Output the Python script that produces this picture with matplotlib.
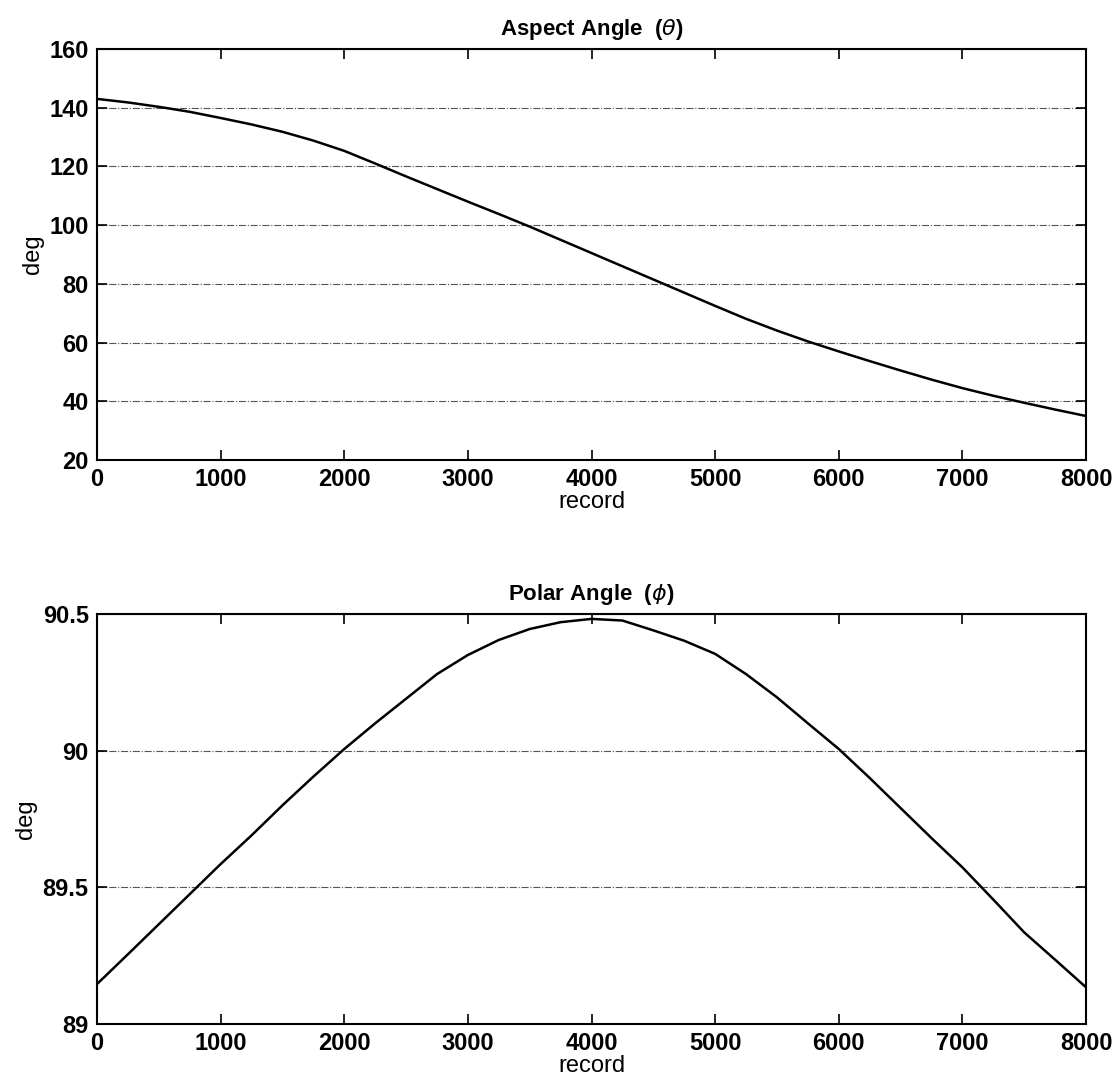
import numpy as np
import matplotlib.pyplot as plt

# record index and angles
record = [0, 250, 500, 750, 1000, 1250, 1500, 1750, 2000, 2250, 2500,
          2750, 3000, 3250, 3500, 3750, 4000, 4250, 4500, 4750, 5000,
          5250, 5500, 5750, 6000, 6250, 6500, 6750, 7000, 7250, 7500,
          7750, 8000]
aspect = [143.0, 141.8, 140.3, 138.6, 136.5, 134.3, 131.8, 128.8, 125.3,
          121.0, 116.6, 112.3, 108.0, 103.8, 99.5, 95.0, 90.5, 86.0, 81.5,
          77.0, 72.5, 68.1, 64.1, 60.4, 57.0, 53.7, 50.5, 47.4, 44.5, 41.9,
          39.5, 37.2, 35.0]
polar = [89.146, 89.255, 89.365, 89.475, 89.585, 89.69, 89.80, 89.905,
         90.006, 90.10, 90.19, 90.28, 90.35, 90.405, 90.445, 90.47, 90.482,
         90.476, 90.44, 90.402, 90.354, 90.28, 90.195, 90.10, 90.006, 89.90,
         89.79, 89.68, 89.573, 89.455, 89.335, 89.235, 89.134]

plt.rcParams['font.family'] = ['Liberation Sans', 'DejaVu Sans']
plt.rcParams['mathtext.fontset'] = 'dejavusans'

fig = plt.figure(figsize=(11.18, 10.84), dpi=100)
ax1 = fig.add_axes([0.0868, 0.5756, 0.8846, 0.3792])
ax2 = fig.add_axes([0.0868, 0.0554, 0.8846, 0.3782])


def style(ax, yticks, ylim, ylabels):
    ax.set_xlim(0, 8000)
    ax.set_ylim(*ylim)
    ax.set_xticks(range(0, 8001, 1000))
    ax.set_yticks(yticks)
    ax.set_yticklabels(ylabels)
    ax.tick_params(direction='in', top=True, right=True, length=7, width=1.2,
                   labelsize=17, pad=6)
    for lbl in ax.get_xticklabels() + ax.get_yticklabels():
        lbl.set_fontweight('bold')
    ax.yaxis.grid(True, linestyle='-.', color='#555555', linewidth=0.8)
    for sp in ax.spines.values():
        sp.set_linewidth(1.5)
    ax.set_xlabel('record', fontsize=17, labelpad=0)
    ax.set_ylabel('deg', fontsize=17, labelpad=4)


ax1.plot(record, aspect, color='black', linewidth=1.8)
style(ax1, range(20, 161, 20), (20, 160), [str(v) for v in range(20, 161, 20)])
ax1.set_title(r'Aspect Angle  ($\theta$)', fontsize=16, fontweight='bold', pad=10)

ax2.plot(record, polar, color='black', linewidth=1.8)
style(ax2, [89, 89.5, 90, 90.5], (89, 90.5), ['89', '89.5', '90', '90.5'])
ax2.set_title(r'Polar Angle  ($\phi$)', fontsize=16, fontweight='bold', pad=10)

fig.savefig('out.png', dpi=100)
